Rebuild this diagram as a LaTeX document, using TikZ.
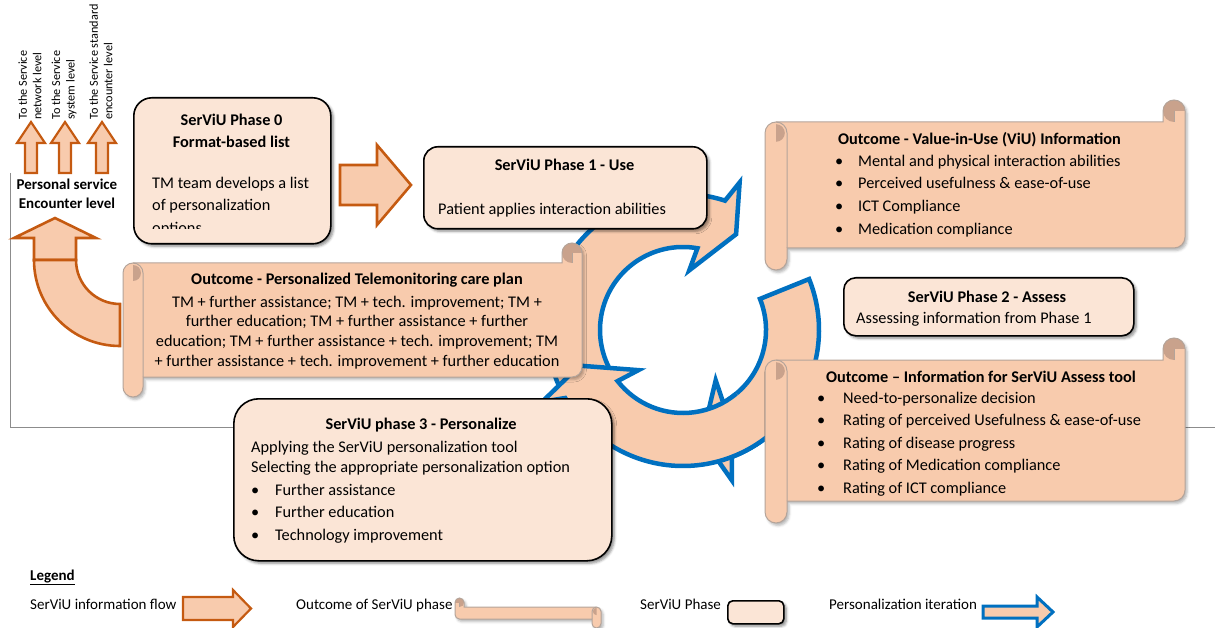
\documentclass[tikz,border=0pt]{standalone}
\usepackage{fontspec}
\setmainfont{Carlito}
\usetikzlibrary{shadows.blur}
\definecolor{cnaranja}{HTML}{C55A11}
\definecolor{cmelon}{HTML}{F8CBAD}
\definecolor{cclaro}{HTML}{FBE5D6}
\definecolor{cazul}{HTML}{0070C0}
\definecolor{crollo}{HTML}{C9A28C}
\definecolor{cborde}{HTML}{B4A49A}
\definecolor{cgris}{HTML}{8C8C8C}
\newcommand{\letra}{\fontsize{16.3}{22.5}\selectfont}
\newcommand{\letrachica}{\fontsize{12.2}{14.5}\selectfont}
\newcommand{\letraley}{\fontsize{15}{18}\selectfont}
\newcommand{\tope}{\rule{0pt}{14pt}}
\newcommand{\punto}[1]{\makebox[#1][l]{\textbullet}}
\tikzset{
  fase/.style={draw=black, line width=1.6pt, fill=cclaro, rounded corners=#1, anchor=north west, inner sep=0pt,
               blur shadow={shadow xshift=2.5pt, shadow yshift=-2.5pt, shadow blur radius=2.5pt, shadow opacity=45}},
  fase/.default=18pt,
  titulo/.style={inner sep=0pt, anchor=north, align=center, font=\letra\bfseries},
  texto/.style={inner sep=0pt, anchor=north west, align=left, font=\letra},
  nivel/.style={rotate=90, anchor=west, align=left, inner sep=0pt, font=\letrachica},
  flujo/.style={draw=cnaranja, fill=cmelon, line width=2.6pt, line join=miter},
  anillo/.style={draw=cazul, line width=4.5pt, line join=miter},
  rollo/.style={fill=cmelon, blur shadow={shadow xshift=2pt, shadow yshift=-2.5pt, shadow blur radius=2.5pt, shadow opacity=30}},
  borde/.style={draw=cborde, line width=1pt},
  eje/.style={draw=cgris, line width=0.8pt},
}
% one piece of the personalization ring: start angle, inner barb angle, closing
\newcommand{\tramo}[3]{%
  \fill[cmelon] ({#1}:136) arc[start angle={#1}, end angle={#2+12}, radius=136] -- ({#2+15}:158) -- ({#2+23}:109.5)
    -- ({#2}:60) -- ({#2+4}:83) arc[start angle={#2+4}, end angle={#1}, radius=83] -- cycle;
  \draw[anillo] ({#1}:136) arc[start angle={#1}, end angle={#2+12}, radius=136] -- ({#2+15}:158) -- ({#2+23}:109.5)
    -- ({#2}:60) -- ({#2+4}:83) arc[start angle={#2+4}, end angle={#1}, radius=83] #3;}
% scroll: [options] x y width height curl
\newcommand{\pergamino}[6][]{%
  \begin{scope}[shift={(#2,#3)},#1]
    \fill[rollo] (#6/2,#6) -- (#4-#6,#6) -- (#4-#6,#6/2) arc[start angle=180,end angle=360,radius=#6/2]
      -- (#4,#5-1.5*#6) arc[start angle=0,end angle=90,radius=#6/2] -- (#6,#5-#6) -- (#6,#5-#6/2)
      arc[start angle=0,end angle=180,radius=#6/2] -- (0,1.5*#6) arc[start angle=180,end angle=270,radius=#6/2] -- cycle;
    \fill[crollo] (#4-#6/2,#6/2) circle[radius=#6/2];
    \fill[cmelon] (#4-#6/2,#6/2) rectangle (#4,#6);
    \fill[crollo] (#6/2,1.1*#6) arc[start angle=270,end angle=450,radius=0.4*#6] -- cycle;
    \draw[borde] (#6/2,#6) -- (#4-#6,#6) -- (#4-#6,#6/2) arc[start angle=180,end angle=360,radius=#6/2]
      -- (#4,#5-1.5*#6) arc[start angle=0,end angle=90,radius=#6/2] -- (#6,#5-#6) -- (#6,#5-#6/2)
      arc[start angle=0,end angle=180,radius=#6/2] -- (0,1.5*#6) arc[start angle=180,end angle=270,radius=#6/2] -- cycle;
    \draw[borde] (#4-#6/2,#6/2) -- (#4-#6/2,#6);
    \draw[borde] (#6/2,#6) arc[start angle=270,end angle=360,radius=#6/2] -- (#6,#5-#6);
  \end{scope}}

\begin{document}
\begin{tikzpicture}[x=1pt, y=-1pt]
\useasboundingbox (0,0) rectangle (1215,628);

% axes
\draw[eje] (10,173) -- (10,427) -- (1215,427);

% personalization ring
\begin{scope}[shift={(683,330)}]
  \tramo{-22}{57}{-- cycle}
  \tramo{148}{276}{}
  \tramo{50}{138}{}
\end{scope}

% return arrow
\draw[flujo] (55,218) -- (96,238) -- (76,238) -- (76,260) -- (34,260) -- (34,238) -- (14,238) -- cycle;
\draw[flujo] (34,260) arc[start angle=180, end angle=90, radius=86] -- (120,304) arc[start angle=90, end angle=180, radius=44] -- cycle;

% levels
\foreach \cx/\lineaA/\lineaB/\nom in {31/To the Service/network level/red, 65/To the Service/system level/sis, 102/To the Service standard/encounter level/enc}{
  \draw[flujo, line width=2.2pt] (\cx,122) -- ++(14,21) -- ++(-8,0) -- ++(0,30) -- ++(-12,0) -- ++(0,-30) -- ++(-8,0) -- cycle;
  \node[nivel] (nivel-\nom) at (\cx-1,120) {\lineaA\\\lineaB};
}
\node[titulo, font=\fontsize{15}{19}\selectfont\bfseries] (personal) at (67,175) {\tope Personal service\\Encounter level};

% phase 0
\node[fase, minimum width=197pt, minimum height=146pt] (fase0) at (133,97) {};
\node[titulo] (fase0tit) at (231.5,111) {\tope SerViU Phase 0\\Format-based list};
\begin{scope}
  \clip (133,97) rectangle (330,229);
  \node[texto] (fase0txt) at (152,174) {\tope TM team develops a list\\of personalization\\options};
\end{scope}
\draw[flujo] (340,165) -- (377,165) -- (377,145) -- (411,185) -- (377,225) -- (377,205) -- (340,205) -- cycle;

% phase 1
\node[fase=14pt, minimum width=283pt, minimum height=82pt] (fase1) at (423,146) {};
\node[titulo] (fase1tit) at (564.5,156) {\tope SerViU Phase 1 - Use};
\node[texto] (fase1txt) at (438,200) {\tope Patient applies interaction abilities};

\pergamino{765}{100}{420}{170}{22}
\node[titulo] (viutit) at (979.5,130) {\tope Outcome - Value-in-Use (ViU) Information};
\node[texto, font=\fontsize{16.3}{22.7}\selectfont] (viulista) at (835,152) {\tope\punto{23pt}Mental and physical interaction abilities\\
  \punto{23pt}Perceived usefulness \& ease-of-use\\\punto{23pt}ICT Compliance\\\punto{23pt}Medication compliance};

% phase 2
\node[fase=12pt, minimum width=290pt, minimum height=58pt] (fase2) at (843,277) {};
\node[titulo] (fase2tit) at (987,288) {\tope SerViU Phase 2 - Assess};
\node[texto] (fase2txt) at (856,309) {\tope Assessing information from Phase 1};

\pergamino{765}{338}{420}{185}{22}
\node[titulo] (evaltit) at (981,368) {\tope Outcome – Information for SerViU Assess tool};
\node[texto] (evallista) at (817,389) {\tope\punto{26pt}Need-to-personalize decision\\
  \punto{26pt}Rating of perceived Usefulness \& ease-of-use\\\punto{26pt}Rating of disease progress\\
  \punto{26pt}Rating of Medication compliance\\\punto{26pt}Rating of ICT compliance};

% care plan
\pergamino{123}{243}{459}{154}{20}
\node[titulo] (plantit) at (357,270) {\tope Outcome - Personalized Telemonitoring care plan};
\node[titulo, font=\fontsize{16.3}{19.7}\selectfont] (plantxt) at (357,293) {\tope TM + further assistance; TM + tech. improvement; TM +\\
  further education; TM + further assistance + further\\education; TM + further assistance + tech. improvement; TM\\
  + further assistance + tech. improvement + further education};

% phase 3
\node[fase=25pt, minimum width=378pt, minimum height=162pt] (fase3) at (233,398) {};
\node[titulo] (fase3tit) at (421,415) {\tope SerViU phase 3 - Personalize};
\node[texto] (fase3txt) at (251,438) {\tope Applying the SerViU personalization tool\\[-2pt]Selecting the appropriate personalization option\\
  \punto{24pt}Further assistance\\\punto{24pt}Further education\\\punto{24pt}Technology improvement};

% legend
\node[texto, font=\letraley\bfseries] (leyenda) at (30,566) {\tope\underline{Legend}};
\node[texto, font=\letraley] (leyflujo) at (30,595) {\tope SerViU information flow};
\draw[flujo, line width=2.2pt] (183,597) -- (233,597) -- (233,590) -- (251,608.5) -- (233,627) -- (233,620) -- (183,620) -- cycle;
\node[texto, font=\letraley] (leyres) at (296,595) {\tope Outcome of SerViU phase};
\pergamino[xscale=-1]{601}{598}{146}{30}{9}
\node[texto, font=\letraley] (leyfase) at (640,595) {\tope SerViU Phase};
\node[fase=5pt, minimum width=56pt, minimum height=23pt] (leycaja) at (727,600) {};
\node[texto, font=\letraley] (leyiter) at (829,595) {\tope Personalization iteration};
\draw[anillo, line width=3pt, fill=cmelon] (983,606) -- (1037,606) -- (1037,597) -- (1053,612) -- (1037,627) -- (1037,618) -- (983,618) -- cycle;
\end{tikzpicture}
\end{document}
